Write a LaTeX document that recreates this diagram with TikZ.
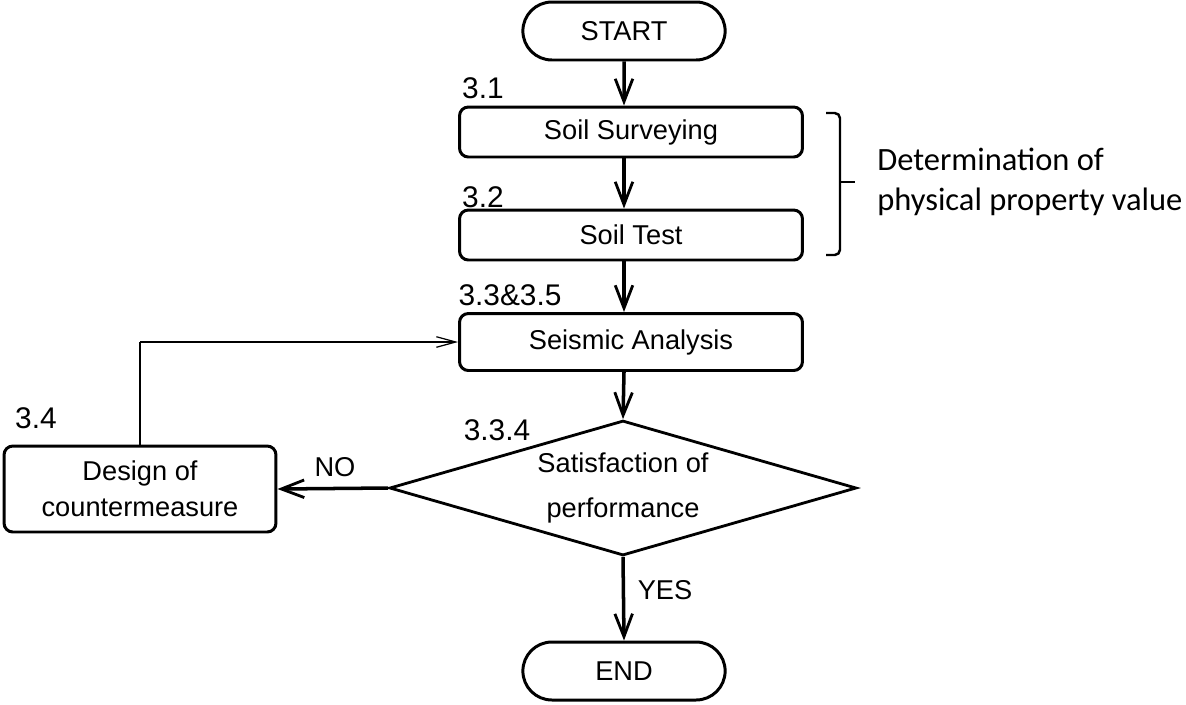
\documentclass[tikz,border=0pt]{standalone}
\usepackage{fontspec}
\setmainfont{Liberation Sans}
\newfontfamily\sidefont{Carlito}
\usetikzlibrary{arrows.meta,shapes.geometric,shapes.misc,positioning}

\begin{document}
\begin{tikzpicture}[x=0.02cm,y=-0.02cm,
  term/.style={rounded rectangle,draw,line width=1.7pt,minimum width=4.28cm,minimum height=1.16cm,font=\fontsize{15.5}{18}\selectfont},
  proc/.style={rectangle,rounded corners=5pt,draw,line width=1.7pt,minimum width=6.86cm,minimum height=1cm,align=center,font=\fontsize{15.5}{20.5}\selectfont},
  decide/.style={diamond,draw,line width=1.6pt,aspect=3.46,inner sep=0pt,minimum width=9.34cm,minimum height=2.7cm,align=center,font=\fontsize{15.5}{26}\selectfont},
  num/.style={inner sep=0pt,font=\fontsize{17}{20}\selectfont},
  flow/.style={line width=2pt,-{Straight Barb[length=13pt,width=10pt,line width=1.6pt]}},
  back/.style={line width=0.7pt,-{Straight Barb[length=11pt,width=6pt]}}]
\useasboundingbox (0,0) rectangle (1186,704);

% flow nodes
\node[term] (start) at (624,31) {START};
\node[proc] (survey) at (631,132) {Soil Surveying};
\node[proc] (test) at (631,235) {Soil Test};
\node[proc,minimum height=1.14cm] (seismic) at (631,342) {Seismic Analysis};
\node[decide] (check) at (623,488) {Satisfaction of\\performance};
\node[term] (finish) at (624,671) {END};
\node[proc,minimum width=5.44cm,minimum height=1.72cm] (design) at (140,489) {Design of\\countermeasure};

% section numbers
\node[num] (n31) at (483,88) {3.1};
\node[num] (n32) at (483,197) {3.2};
\node[num] (n335) at (510,295) {3.3\&3.5};
\node[num] (n334) at (497,430) {3.3.4};
\node[num] (n34) at (36,418) {3.4};

% connectors
\draw[flow] (start) -- (survey.north -| start);
\draw[flow] (survey.south -| start) -- (test.north -| start);
\draw[flow] (test.south -| start) -- (seismic.north -| start);
\draw[flow] (seismic.south -| start) -- (check.north);
\draw[flow] (check.south) -- (finish.north);
\draw[flow] (check.west) -- (design.east);
\coordinate (bend) at (design.north |- seismic.west);
\draw[line width=1.4pt] (design.north) -- (bend);
\draw[back] (bend) -- (seismic.west);

\node[num,font=\fontsize{15.5}{18}\selectfont] (no) at (335,467) {NO};
\node[num,font=\fontsize{15.5}{18}\selectfont] (yes) at (665,590) {YES};

% bracket and its text
\draw[line width=1.4pt,rounded corners=3pt] (826,113) -- (840,113) -- (840,255) -- (826,255);
\draw[line width=1.4pt] (840,182) -- (855,182);
\node[anchor=west,align=left,inner sep=0pt,font=\sidefont\fontsize{18.5}{22.8}\selectfont] (prop) at (877,182) {Determination of\\physical property value};

\end{tikzpicture}
\end{document}
